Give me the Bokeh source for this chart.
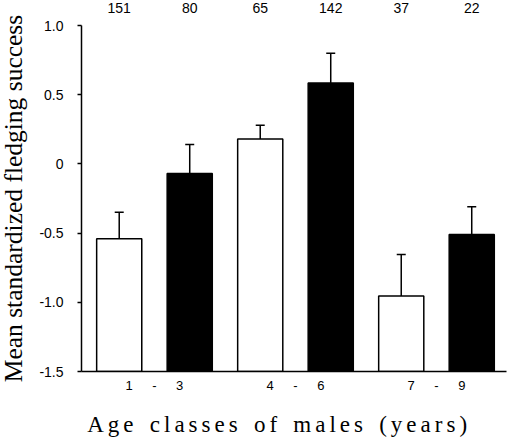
import numpy as np
from bokeh.plotting import figure
from bokeh.layouts import column, row
from bokeh.models import (ColumnDataSource, Range1d, FixedTicker, Whisker, TeeHead,
                          InlineStyleSheet)
from bokeh.embed import file_html
from bokeh.resources import INLINE

# ---- data ----
age_classes = ["1 - 3", "4 - 6", "7 - 9"]
bar_colors = ["white", "black", "white", "black", "white", "black"]
means = [-0.54, -0.07, 0.18, 0.585, -0.955, -0.51]
se = [0.19, 0.21, 0.10, 0.215, 0.30, 0.20]
sample_sizes = [151, 80, 65, 142, 37, 22]
y_ticks = [-1.5, -1.0, -0.5, 0.0, 0.5, 1.0]
y_tick_labels = ["-1.5", "-1.0", "-0.5", "0", "0.5", "1.0"]
x_title = "Age classes of males (years)"
y_title = "Mean standardized fledging success"

x = np.arange(1, len(means) + 1, dtype=float)
group_centers = [(x[2 * i] + x[2 * i + 1]) / 2 for i in range(len(age_classes))]
EN = "\u2002"
spaced_classes = [c.replace(" ", EN * 3) for c in age_classes]
y_bounds = (y_ticks[0], y_ticks[-1])

src = ColumnDataSource(dict(
    x=x, top=means, color=bar_colors,
    lower=[m - s for m, s in zip(means, se)],
    upper=[m + s for m, s in zip(means, se)],
    n=[str(v) for v in sample_sizes],
))

TW = 30  # width of the strip holding the vertical y title
xr = Range1d(0.465, 6.493)
yr = Range1d(-1.5, 1.181)

p = figure(width=510 - TW, height=400, output_backend="svg", toolbar_location=None,
           x_range=xr, y_range=yr,
           min_border_left=81 - TW, min_border_right=4, min_border_top=0,
           min_border_bottom=29)
p.outline_line_color = None
p.grid.visible = False

p.vbar(x="x", top="top", bottom=y_bounds[0], width=0.64, source=src,
       fill_color="color", line_color="black", line_width=1.5)

w = Whisker(base="x", lower="lower", upper="upper", source=src,
            line_color="black", line_width=1.5,
            upper_head=TeeHead(size=9, line_color="black", line_width=1.5),
            lower_head=TeeHead(size=9, line_color="black", line_width=1.5))
p.add_layout(w)

# sample sizes above the bars
p.text(x="x", y=1.125, text="n", source=src, text_align="center",
       text_baseline="middle", text_font_size="14px",
       text_font={"value": "Liberation Sans"}, text_color="black")

# y axis
ya = p.yaxis[0]
ya.bounds = y_bounds
ya.ticker = FixedTicker(ticks=y_ticks)
ya.major_label_overrides = {t: l for t, l in zip(y_ticks, y_tick_labels)}
ya.minor_tick_line_color = None
ya.major_tick_in = 0
ya.major_tick_out = 4
ya.major_label_standoff = 14
ya.axis_line_width = 1.5
ya.major_tick_line_width = 1.5
ya.axis_line_color = "black"
ya.major_tick_line_color = "black"
ya.major_label_text_font = "Liberation Sans"
ya.major_label_text_font_size = "14px"
ya.major_label_text_color = "black"

# x axis
xa = p.xaxis[0]
xa.ticker = FixedTicker(ticks=group_centers)
xa.major_label_overrides = {c: l for c, l in zip(group_centers, spaced_classes)}
xa.minor_tick_line_color = None
xa.major_tick_line_color = None
xa.major_tick_in = 0
xa.major_tick_out = 0
xa.major_label_standoff = 6
xa.axis_line_width = 1.5
xa.axis_line_color = "black"
xa.major_label_text_font = "Liberation Sans"
xa.major_label_text_font_size = "13px"
xa.major_label_text_color = "black"

# x-axis title strip (letter-spaced serif title, as in the reference)
t = figure(width=510 - TW, height=41, output_backend="svg", toolbar_location=None,
           x_range=xr, y_range=Range1d(0, 1), x_axis_location=None,
           y_axis_location=None, min_border_left=81 - TW, min_border_right=4,
           min_border_top=0, min_border_bottom=0)
t.outline_line_color = None
t.grid.visible = False
t.text(x=[0.546], y=[0.42], text=[x_title], text_align="left",
       text_baseline="middle", text_font_size="23px",
       text_font={"value": "Liberation Serif"}, text_color="black")
t.stylesheets = [InlineStyleSheet(css=":host { letter-spacing: 4px; word-spacing: 2.5px; }")]

# y-axis title strip, same vertical scale as the main plot, full window height
ys = figure(width=TW, height=441, output_backend="svg", toolbar_location=None,
            x_range=Range1d(0, TW), y_range=Range1d(-1.5 - 70 / 138.4, 1.181),
            x_axis_location=None, y_axis_location=None,
            min_border_left=0, min_border_right=0, min_border_top=0,
            min_border_bottom=0)
ys.outline_line_color = None
ys.grid.visible = False
ys.text(x=[12.5], y=[sum(y_bounds) / 2], text=[y_title], angle=np.pi / 2,
        text_align="center", text_baseline="alphabetic", text_font_size="25.5px",
        text_font={"value": "Liberation Serif"}, text_color="black")

layout = row(ys, column(p, t, spacing=0), spacing=0)
open("out.html", "w").write(file_html(layout, INLINE))
